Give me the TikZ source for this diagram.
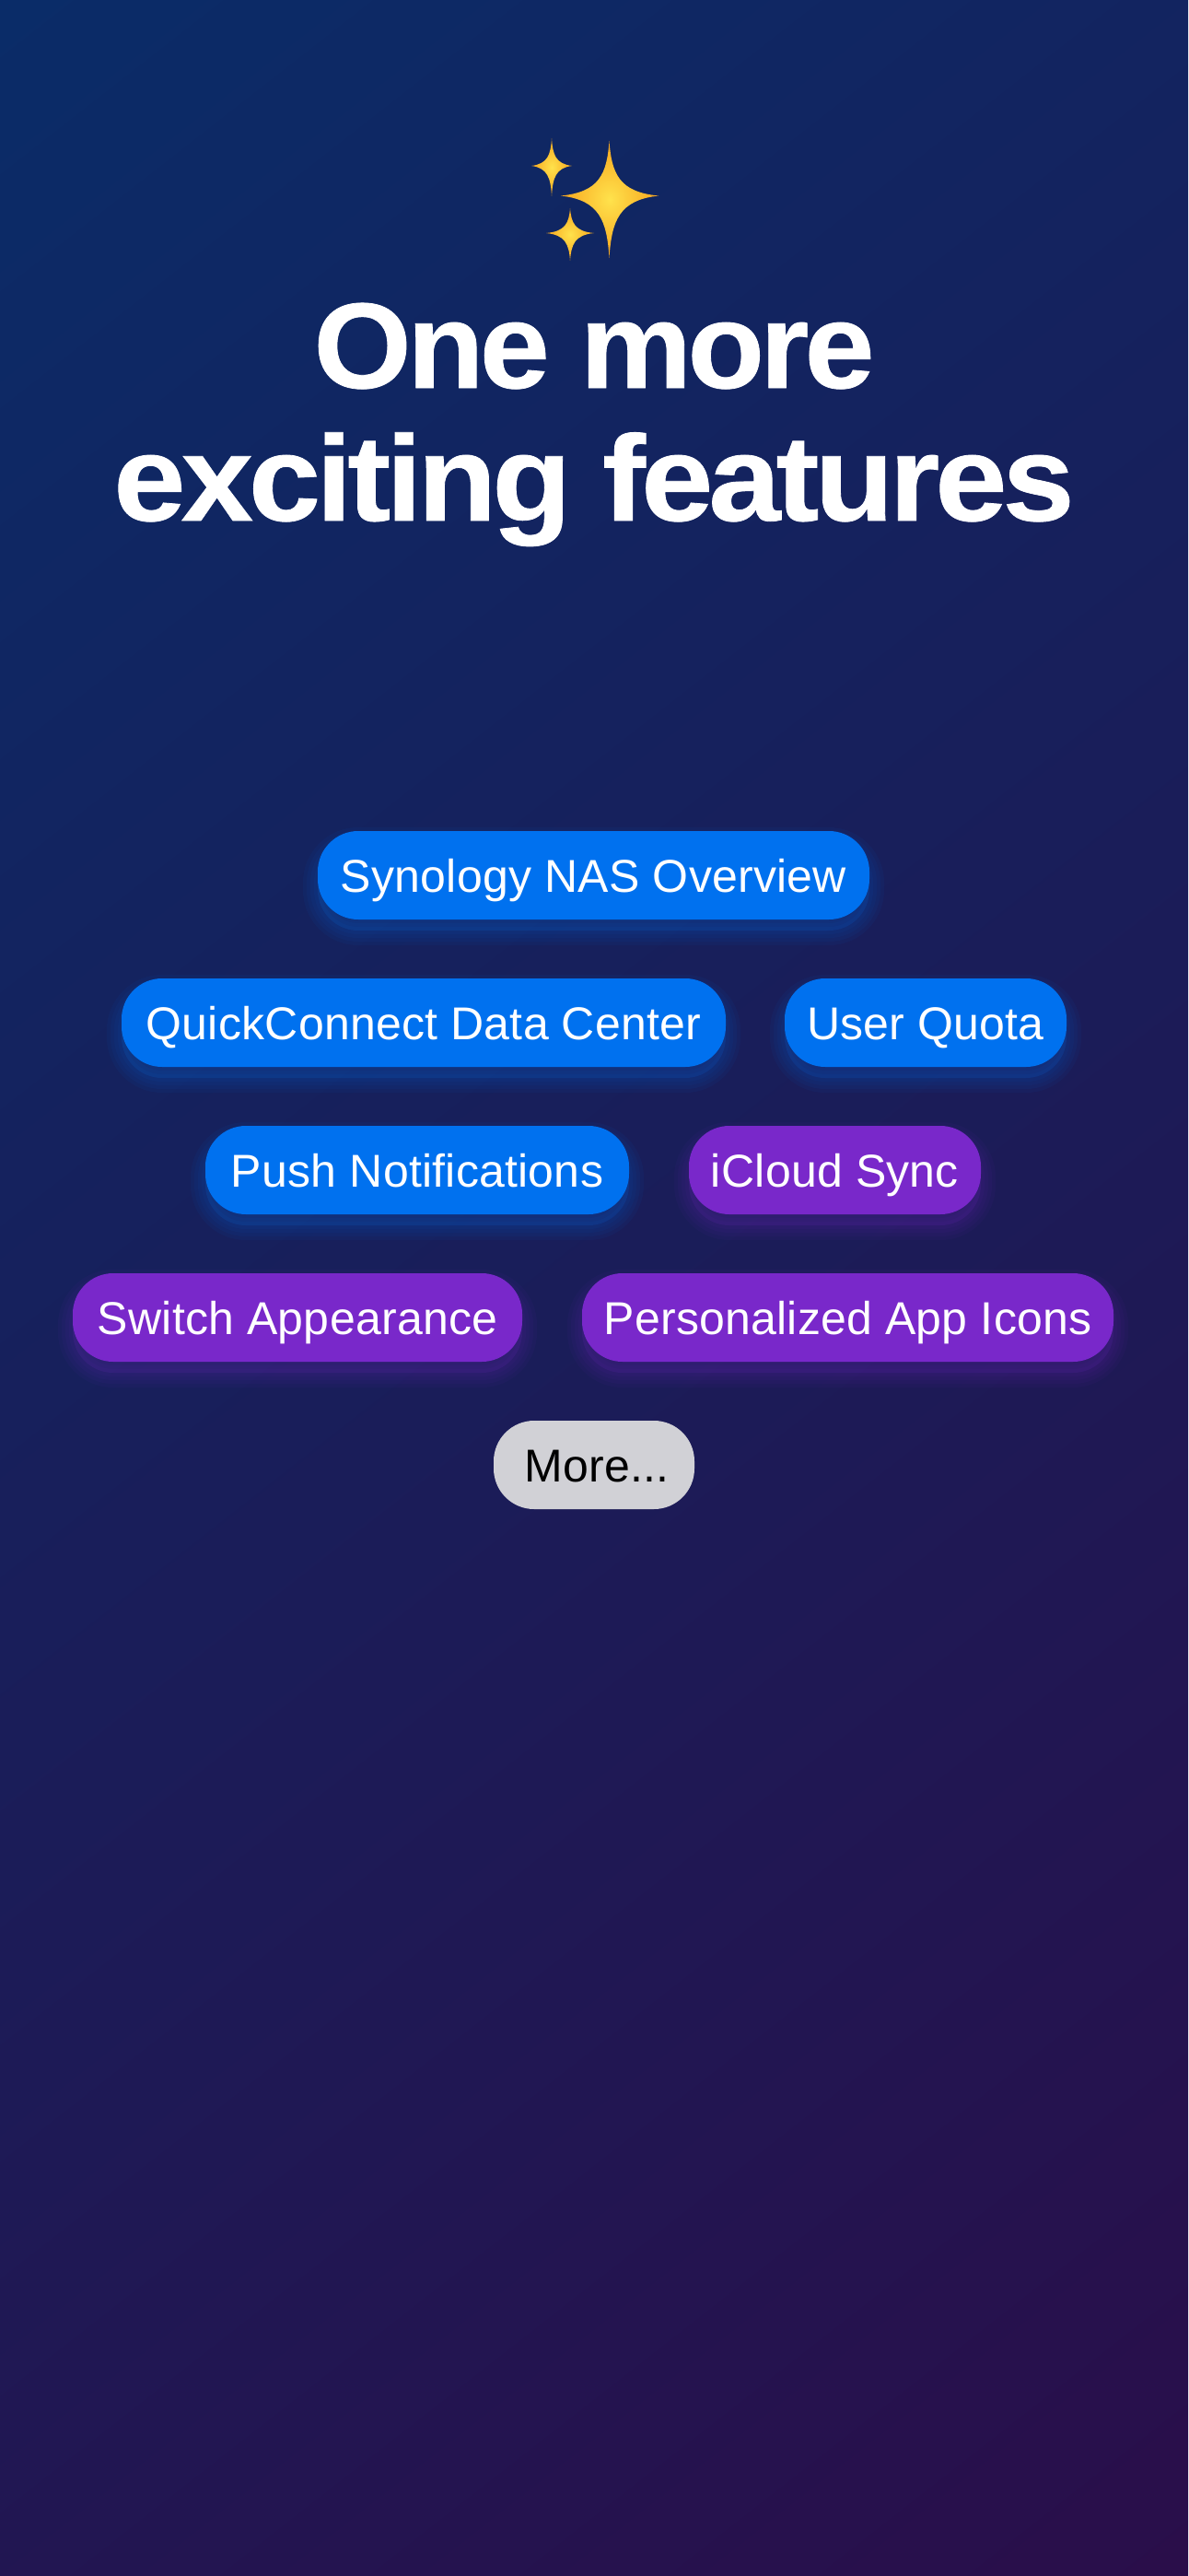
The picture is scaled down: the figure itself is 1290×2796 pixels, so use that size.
\documentclass[tikz,border=0pt]{standalone}
\usepackage{xcolor}
\usepackage{fontspec}
\setmainfont{Liberation Sans}
\usetikzlibrary{calc, shapes}
\newfontfamily\headfont[LetterSpace=-3.5, FakeBold=0.6]{Liberation Sans Bold}
\newfontfamily\pillfont[LetterSpace=0.5]{Liberation Sans}
\definecolor{skytop}{HTML}{0A2C68}
\definecolor{skybottom}{HTML}{2A0E4A}
\definecolor{pillblue}{HTML}{0071EF}
\definecolor{pillpurple}{HTML}{7928CA}
\definecolor{pillgrey}{HTML}{D1D1D6}
\definecolor{sparklemid}{HTML}{FFE24C}
\definecolor{sparkleedge}{HTML}{F7A51E}
\tikzset{
  glow/.style={
    preaction={fill=#1, fill opacity=0.14, transform canvas={yshift=-12pt}},
    preaction={draw=#1, line width=32pt, draw opacity=0.05, transform canvas={yshift=-12pt}},
    preaction={draw=#1, line width=24pt, draw opacity=0.05, transform canvas={yshift=-12pt}},
    preaction={draw=#1, line width=16pt, draw opacity=0.05, transform canvas={yshift=-12pt}},
    preaction={draw=#1, line width=8pt, draw opacity=0.05, transform canvas={yshift=-12pt}}
  },
  pillbox/.style={rounded corners=44pt, inner xsep=0pt, inner ysep=0pt, minimum height=96pt,
    text height=36pt, text depth=0pt, font=\fontsize{50}{60}\selectfont\pillfont},
  bluepill/.style={pillbox, fill=pillblue, text=white, glow=pillblue},
  purplepill/.style={pillbox, fill=pillpurple, text=white, glow=pillpurple},
  headline/.style={anchor=base, text=white, inner sep=0pt, xscale=#1, transform shape, font=\fontsize{132}{144}\selectfont\headfont}
}
% x, y, half width, height above, height below
\newcommand{\sparkle}[6]{
\shade[inner color=sparklemid, outer color=sparkleedge] (#1,#2-#5)
  .. controls (#1+.05*#3,#2-.4*#5) and (#1+.2*#3,#2-.07*#5) .. (#1+#3,#2)
  .. controls (#1+.2*#3,#2+.07*#6) and (#1+.05*#3,#2+.4*#6) .. (#1,#2+#6)
  .. controls (#1-.05*#4,#2+.4*#6) and (#1-.2*#4,#2+.07*#6) .. (#1-#4,#2)
  .. controls (#1-.2*#4,#2-.07*#5) and (#1-.05*#4,#2-.4*#5) .. cycle;
}
\begin{document}
\begin{tikzpicture}[x=1pt, y=-1pt]
\useasboundingbox (0,0) rectangle (1290,2796);
\begin{scope}
\clip (0,0) rectangle (1290,2796);
\shade[top color=skytop, bottom color=skybottom, shading angle=38] (-854,-101) rectangle (2144,2897);
\end{scope}

\sparkle{661.5}{212.5}{53.5}{52.5}{59.5}{67.5}
\sparkle{599}{180}{22}{22}{30}{33}
\sparkle{619}{253}{26}{26}{27}{30}

\node[headline=1.035] (titleone) at (645,421) {One more};
\node[headline=1.065] (titletwo) at (645,565) {exciting features};

\node[bluepill, minimum width=599pt] (overview) at (644.5,950) {Synology NAS Overview};
\node[bluepill, minimum width=656pt] (quickconnect) at (460,1110) {QuickConnect Data Center};
\node[bluepill, minimum width=306pt] (quota) at (1005,1110) {User Quota};
\node[bluepill, minimum width=460pt] (push) at (453,1270) {Push Notifications};
\node[purplepill, minimum width=317pt] (icloud) at (906.5,1270) {iCloud Sync};
\node[purplepill, minimum width=488pt] (appearance) at (323,1430) {Switch Appearance};
\node[purplepill, minimum width=577pt] (appicons) at (920.5,1430) {Personalized App Icons};
\node[pillbox, fill=pillgrey, text=black, minimum width=218pt] (more) at (645,1590) {\hspace{6pt}More...};
\end{tikzpicture}
\end{document}
